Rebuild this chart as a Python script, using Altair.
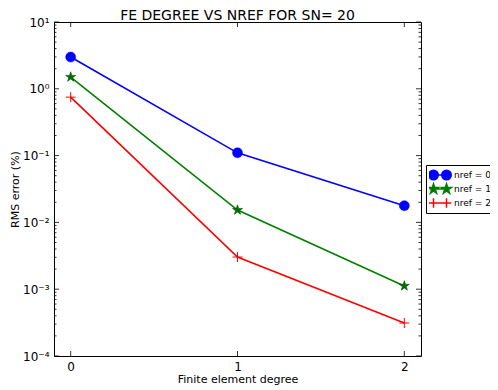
import math
import altair as alt
import pandas as pd

# ---- data ----
degree = [0, 1, 2]
nref_labels = ["nref = 0", "nref = 1", "nref = 2"]
rms_nref0 = [2.99, 0.110, 0.0178]
rms_nref1 = [1.50, 0.0153, 0.00112]
rms_nref2 = [0.75, 0.00303, 0.000312]
line_colors = ["#0000ff", "#008000", "#ff0000"]
fill_colors = ["#0000ff", "#007000", "#ff0000"]

x_major = [0, 1, 2]
y_major = [1e-4, 1e-3, 1e-2, 1e-1, 1e0, 1e1]
y_minor = [k * 10.0 ** e for e in range(-4, 1) for k in range(2, 10)]

W, H = 367, 334
FONT = "DejaVu Sans"

rows = []
for lab, vals in zip(nref_labels, [rms_nref0, rms_nref1, rms_nref2]):
    for d, v in zip(degree, vals):
        rows.append({"degree": d, "rms": v, "series": lab})
df = pd.DataFrame(rows)


def star_path(cx, r_out, r_in=0.382):
    pts = []
    for i in range(10):
        ang = -math.pi / 2 + i * math.pi / 5
        r = r_out if i % 2 == 0 else r_in * r_out
        pts.append((cx + r * math.cos(ang), r * math.sin(ang)))
    return "M" + "L".join(f"{x:.3f},{y:.3f}" for x, y in pts) + "Z"


def circle_path(cx, r):
    return (f"M{cx - r:.3f},0A{r:.3f},{r:.3f} 0 1,0 {cx + r:.3f},0"
            f"A{r:.3f},{r:.3f} 0 1,0 {cx - r:.3f},0Z")


def plus_path(cx, h):
    return f"M{cx - h:.3f},0H{cx + h:.3f}M{cx:.3f},{-h:.3f}V{h:.3f}"


c = 1.3
legend_paths = [
    f"M{-c},0H{c}" + circle_path(-c, 0.95) + circle_path(c, 0.95),
    f"M{-c},0H{c}" + star_path(-c, 1.05) + star_path(c, 1.05),
    f"M{-c},0H{c}" + plus_path(-c, 0.95) + plus_path(c, 0.95),
]

xs = alt.Scale(domain=[-0.1, 2.1], nice=False, zero=False)
ys = alt.Scale(type="log", domain=[1e-4, 1e1], nice=False)

sup = "['\u207b\u2074','\u207b\u00b3','\u207b\u00b2','\u207b\u00b9','\u2070','\u00b9']"

x_enc = alt.X("degree:Q", scale=xs, axis=alt.Axis(
    values=x_major, tickSize=0, domain=False, grid=False, labelPadding=5,
    labelFontSize=12, labelFont=FONT, labelColor="black", format="d",
    title="Finite element degree", titleFont=FONT, titleFontSize=11,
    titleFontWeight="normal", titleColor="black", titleY=23,
    titleBaseline="middle"))
y_enc = alt.Y("rms:Q", scale=ys, axis=alt.Axis(
    values=y_major, tickSize=0, domain=False, grid=False, labelPadding=5,
    labelFontSize=12, labelFont=FONT, labelColor="black",
    labelExpr="'10' + " + sup + "[round(log(datum.value)/LN10)+4]",
    title="RMS error (%)", titleFont=FONT, titleFontSize=11,
    titleFontWeight="normal", titleColor="black", titleX=-39,
    titleBaseline="middle"))

base = alt.Chart(df)


def series_line(i):
    return base.transform_filter(alt.datum.series == nref_labels[i]).mark_line(
        strokeWidth=1.6, color=line_colors[i]).encode(x=x_enc, y=y_enc)


pts0 = base.transform_filter(alt.datum.series == nref_labels[0]).mark_point(
    shape="circle", filled=True, size=100, fill="#0000ff", stroke="#0000ff",
    strokeWidth=0.5, opacity=1).encode(x="degree:Q", y="rms:Q")
pts1 = base.transform_filter(alt.datum.series == nref_labels[1]).mark_point(
    shape=star_path(0, 1.0), filled=True, size=110, fill="#007000",
    stroke="#004d00", strokeWidth=0.6, opacity=1).encode(x="degree:Q", y="rms:Q")
pts2 = base.transform_filter(alt.datum.series == nref_labels[2]).mark_point(
    shape=plus_path(0, 1.0), filled=False, size=100, stroke="#ff0000",
    strokeWidth=1, opacity=1).encode(x="degree:Q", y="rms:Q")

leg = alt.Legend(title=None, orient="none", legendX=372, legendY=143,
                 strokeColor="black", fillColor="white", padding=3,
                 symbolSize=100, symbolStrokeWidth=1.5, symbolOffset=5,
                 symbolOpacity=1, clipHeight=14,
                 labelFontSize=9, labelFont=FONT, labelColor="black",
                 labelOffset=8, rowPadding=0, cornerRadius=0)

legend_layer = base.mark_point(filled=True, clip=True, opacity=1).encode(
    x=alt.value(-500), y=alt.value(-500),
    fill=alt.Fill("series:N", scale=alt.Scale(domain=nref_labels, range=fill_colors), legend=leg),
    stroke=alt.Stroke("series:N", scale=alt.Scale(domain=nref_labels, range=line_colors), legend=leg),
    shape=alt.Shape("series:N", scale=alt.Scale(domain=nref_labels, range=legend_paths), legend=leg),
)

# inward ticks (matplotlib classic style)
ymaj_df = pd.DataFrame({"v": y_major})
ymin_df = pd.DataFrame({"v": y_minor})
xmaj_df = pd.DataFrame({"v": x_major})


def yticks(d, length):
    left = alt.Chart(d).mark_rule(color="black", strokeWidth=0.8).encode(
        y=alt.Y("v:Q", scale=ys), x=alt.value(0), x2=alt.value(length))
    right = alt.Chart(d).mark_rule(color="black", strokeWidth=0.8).encode(
        y=alt.Y("v:Q", scale=ys), x=alt.value(W), x2=alt.value(W - length))
    return [left, right]


xt_bottom = alt.Chart(xmaj_df).mark_rule(color="black", strokeWidth=0.8).encode(
    x=alt.X("v:Q", scale=xs), y=alt.value(H), y2=alt.value(H - 5))
xt_top = alt.Chart(xmaj_df).mark_rule(color="black", strokeWidth=0.8).encode(
    x=alt.X("v:Q", scale=xs), y=alt.value(0), y2=alt.value(5))

chart = alt.layer(
    series_line(0), series_line(1), series_line(2), pts0, pts1, pts2, legend_layer,
    *yticks(ymaj_df, 5), *yticks(ymin_df, 2.5), xt_bottom, xt_top,
).properties(
    width=W, height=H,
    title=alt.TitleParams("FE DEGREE VS NREF FOR SN= 20", fontSize=14, font=FONT,
                          fontWeight="normal", color="black", offset=0, dy=7,
                          anchor="middle", frame="group"),
    autosize=alt.AutoSizeParams(type="none"),
    padding={"left": 46, "top": 14, "right": 69, "bottom": 32},
    background="white",
).configure_view(stroke="black", strokeWidth=1)

chart.save("out.html", embed_options={"renderer": "svg", "actions": False})
